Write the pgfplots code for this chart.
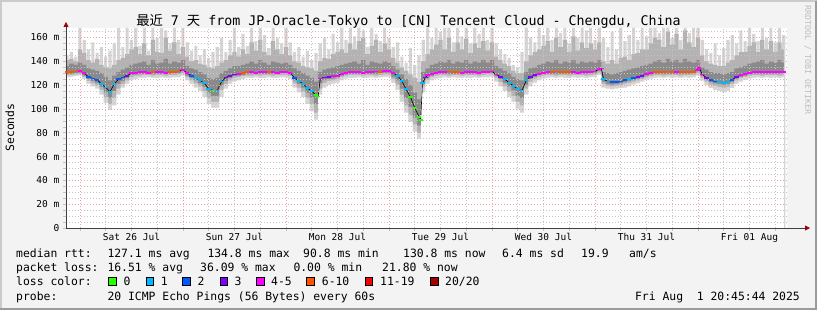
\documentclass[border=0pt]{standalone}
\usepackage{fontspec}
\setmainfont{DejaVu Sans Mono}
\newfontfamily\cjk{Noto Sans CJK SC}
\usepackage{pgfplots}
\pgfplotsset{compat=1.18}
\usepackage{pgfplotstable}
\usetikzlibrary{arrows.meta}

\definecolor{bgc}{HTML}{F3F3F3}
\definecolor{frA}{HTML}{CBCBCB}
\definecolor{frB}{HTML}{9B9B9B}
\definecolor{smA}{HTML}{D5D5D5}
\definecolor{smB}{HTML}{B3B3B3}
\definecolor{smC}{HTML}{8A8A8A}
\definecolor{gmin}{HTML}{C4C4C4}
\definecolor{gmaj}{HTML}{F0A0A0}
\definecolor{axc}{HTML}{404040}
\definecolor{arc}{HTML}{A00000}
\definecolor{rrc}{HTML}{BDBDBD}
\definecolor{lc0}{HTML}{26FF00}
\definecolor{lc1}{HTML}{00B8FF}
\definecolor{lc2}{HTML}{0059FF}
\definecolor{lc3}{HTML}{7E00FF}
\definecolor{lc4}{HTML}{FF00FF}
\definecolor{lc6}{HTML}{FF5500}
\definecolor{lc11}{HTML}{FF0000}
\definecolor{lc20}{HTML}{A00000}

% smoke: hour lA lB lC uC uB uA
\pgfplotstableread{
h lA lB lC uC uB uA
-3 127 128.5 129.5 136 141 145
-2 127 128.5 129.5 138 142 148
-1 127.5 129 130 137 140 144
0 128 129.5 130.5 139 150 168
1 125 127 128 137 147 158
2 121 123.5 125 134 141 150
3 119 121.5 123.5 133 139 156
4 117 120 122 132 142 147
5 112 116 118.5 130 137 152
6 105 110 114 127 135 144
7 99 104 109 124 134 149
8 103 109 115 128 137 155
9 112 117 121 131 141 168
10 118 121 123.5 133 143 152
11 121 124 126 135 146 168
12 124 127 128.5 137 150 158
13 125 128 129 138 152 168
14 126 128 129.5 139 146 153
15 126 128.5 129.5 140 155 168
16 126.5 128.5 129.5 137 145 149
17 126 128 129.5 141 158 168
18 126 128.5 129.5 138 148 160
19 126.5 128.5 129.5 139 147 168
20 126 128 129.5 142 160 166
21 126 128.5 129.5 138 149 155
22 126.5 128.5 130 140 156 168
23 126.5 129 130 139 146 158
24 128 130 131.5 141 152 168
25 124 126.5 128 136 144 156
26 121 124 126 134 140 149
27 118 121.5 124 133 141 153
28 115 119 121.5 131 138 145
29 110 115 118.5 129 137 150
30 104 109 113.5 126 135 143
31 101 106 111 125 134 148
32 101 106 111 126 136 152
33 110 116 119.5 130 139 160
34 117 121 123.5 132 141 148
35 121 124 126 134 145 158
36 123 126 127.5 136 148 168
37 124 127 128 136 144 152
38 125 127.5 128.5 137 150 163
39 126 128 129.5 138 146 153
40 126 128 129.5 140 156 168
41 126.5 128.5 129.5 138 149 157
42 126 128 129.5 141 158 168
43 126 128.5 129.5 139 148 162
44 126.5 128.5 129.5 137 145 151
45 126 128 129.5 140 157 168
46 126 128.5 129.5 139 150 160
47 126.5 128.5 130 138 146 155
48 126.5 128.5 130 139 152 168
49 125 127.5 129 137 145 156
50 118 121.5 124 134 140 148
51 114 118 121 132 139 152
52 110 114.5 118 130 136 144
53 104 109 113.5 128 135 149
54 98 104 109.5 126 134 141
55 91 97 104 123 132 147
56 112 117 121.5 131 140 155
57 118 122 124.5 133 143 160
58 120 123.5 125 134 142 150
59 121 124 125.5 135 146 163
60 122 125 126.5 136 148 156
61 124 127 128 137 150 168
62 125.5 128 129 138 147 158
63 126 128.5 129.5 139 155 168
64 126 128.5 129.5 140 150 161
65 126.5 128.5 129.5 138 157 168
66 126 128 129.5 141 160 166
67 126 128.5 129.5 137 146 152
68 126.5 128.5 129.5 140 153 168
69 126 128 129.5 139 158 163
70 126.5 128.5 130 138 148 157
71 127 129 130.5 140 155 168
72 127 129 130.5 139 150 160
73 122 125 127 136 143 152
74 116 120.5 124 133 139 156
75 106 112 117 129 135 144
76 97 103 109 125 132 139
77 89 95 101.5 120 129 151
78 81 87 93 114 126 137
79 75 80 86 108 123 145
80 114 119 122.5 131 140 158
81 121 124.5 126 134 146 168
82 124 127 128 137 150 160
83 125.5 128 129.5 138 154 168
84 126 128.5 129.5 140 158 165
85 126.5 128.5 129.5 139 150 168
86 126 128 129.5 141 160 168
87 126.5 128.5 129.5 138 148 156
88 126 128.5 129.5 140 156 168
89 126 128 129.5 139 150 161
90 126.5 128.5 129.5 141 159 168
91 126 128.5 129.5 138 147 155
92 126.5 128.5 129.5 140 155 168
93 126 128 129.5 139 151 163
94 126.5 128.5 130 141 157 168
95 126.5 129 130 139 149 158
96 127 129 130.5 141 156 168
97 123 126 127.5 136 144 155
98 119 122.5 125 134 141 150
99 115 119 122 132 138 146
100 110 114.5 119 130 136 143
101 106 111 115.5 127 132 137
102 100 106 111 125 130 135
103 97 103 109 124 130 148
104 112 117 120.5 131 140 168
105 119 123 125 134 145 160
106 122 125.5 127 135 148 156
107 124 127 128.5 137 150 168
108 125.5 128 129.5 138 153 162
109 126 128.5 129.5 140 157 168
110 126.5 128.5 129.5 139 148 158
111 126 128 129.5 141 160 168
112 126.5 128.5 129.5 138 152 164
113 126 128.5 129.5 140 158 168
114 126 128 129.5 139 148 155
115 126.5 128.5 129.5 141 161 168
116 126 128.5 129.5 138 149 160
117 126.5 128.5 129.5 140 156 168
118 126 128 129.5 139 151 166
119 126.5 128.5 130 140 155 168
120 127 129 130.5 139 150 158
121 128.5 130.5 132 141 156 168
122 118 121 123 131 140 160
123 117 119.5 121 130 138 152
124 116.5 119 120.5 129 141 165
125 117 119.5 121 130 138 150
126 117.5 120 121.5 131 143 168
127 118 121 122.5 132 144 157
128 119 122 123.5 133 141 162
129 120.5 123 124.5 134 146 168
130 121.5 124 125.5 135 147 158
131 123 125 126.5 136 150 168
132 124.5 126.5 128 137 150 161
133 125.5 127.5 129 138 155 168
134 126 128.5 129.5 140 160 168
135 126.5 128.5 129.5 141 158 164
136 126 128 129.5 139 152 168
137 126.5 128.5 129.5 142 165 168
138 126 128.5 129.5 140 154 160
139 126.5 128.5 129.5 141 163 168
140 126 128 129.5 139 150 158
141 126.5 128.5 129.5 142 166 168
142 126 128.5 129.5 140 156 164
143 126.5 128.5 130 139 152 168
144 128 130 131.5 141 160 168
145 123.5 126 127.5 135 145 158
146 120 123 124.5 133 140 150
147 117.5 120.5 122.5 131 138 147
148 116 119.5 121.5 130 137 155
149 115 118.5 121 130 136 145
150 114 118 120.5 129 136 151
151 115 118.5 121 130 139 158
152 117.5 121 123 131 141 162
153 121 124 125.5 134 145 155
154 123 126 127 135 148 166
155 124.5 127 128 136 148 157
156 125.5 128 129 138 153 168
157 126 128.5 129.5 139 156 163
158 126.5 128.5 129.5 140 148 157
159 126 128 129.5 141 158 168
160 126.5 128.5 129.5 138 150 160
161 126 128.5 129.5 140 157 168
162 126.5 128.5 129.5 139 148 156
163 126 128 129.5 141 156 168
164 126.5 128.5 130 139 150 162
}\smoke

% median rtt (ms) with loss class
\pgfplotstableread{
h v c
-3 131 o
-2 131 o
-1 131.5 o
0 132 m
1 130 m
2 127 b
3 125.5 b
4 124.5 b
5 121 c
6 118 c
7 114.5 c
8 121 c
9 125 b
10 126.5 b
11 128 v
12 130 m
13 130.5 m
14 131 m
15 131 m
16 130.5 m
17 131 o
18 131 m
19 131 m
20 130.5 m
21 131 o
22 131 o
23 131.5 o
24 133 m
25 130 m
26 128 b
27 126 c
28 124 c
29 121.5 c
30 117 c
31 115.5 g
32 115.5 c
33 123 c
34 126.5 v
35 128 v
36 129 v
37 129.5 m
38 130 o
39 131 o
40 131 m
41 130.5 m
42 131 m
43 131 m
44 131 o
45 131 m
46 130.5 m
47 131 m
48 131 m
49 130.5 m
50 126 b
51 123.5 c
52 121 c
53 117.5 c
54 115 c
55 111.5 g
55.5 110.5 g
56 125.5 m
57 126.5 v
58 127 v
59 127.5 m
60 128 m
61 129.5 m
62 130.5 m
63 131 m
64 131 m
65 131 m
66 130.5 m
67 131 m
68 131 m
69 131.5 m
70 131 o
71 132 m
72 132 m
73 130 m
74 128 c
75 123.5 c
76 116.5 c
77 110 g
78 101 g
79 93.5 g
79.4 90.8 g
79.8 121.5 c
80.5 126.5 v
81 128.5 m
82 129.5 m
83 130.5 m
84 131 m
85 131 m
86 131.5 o
87 131 o
88 131 o
89 130.5 m
90 131 m
91 131 m
92 131 m
93 130.5 m
94 131 m
95 131 m
96 131.5 m
97 129 m
98 127 v
99 125 c
100 122 c
101 119.5 c
102 116.5 c
103 115.5 c
104 124 c
105 127 v
106 128.5 v
107 129.5 m
108 130.5 m
109 131 m
110 131 o
111 131.5 o
112 131 o
113 131 o
114 131 o
115 131 m
116 130.5 m
117 131 m
118 131 m
119 131 m
120 131.5 m
121 133.5 m
121.5 134 m
122 125 c
123 123 c
124 122.5 b
125 122.5 b
126 123 b
127 124 b
128 125 c
129 126 b
130 127 v
131 128 v
132 129.5 m
133 130.5 m
134 131 o
135 131 o
136 131 o
137 131.5 o
138 131 o
139 131 m
140 131 o
141 131 o
142 131 o
143 131 o
144 133 m
144.3 134.5 m
145 129 m
146 126 v
147 124 b
148 123 b
149 122.5 c
150 122 c
151 122.5 c
152 124.5 b
153 127 v
154 128.5 m
155 129.5 m
156 130.5 m
157 131 m
158 131 m
159 131 m
160 131 m
161 131 m
162 131 m
163 131 m
164 131 m
}\med

\begin{document}
\begin{tikzpicture}[
  lg/.style={anchor=base west, inner sep=0pt, font=\fontsize{11.4bp}{13bp}\selectfont},
  box/.style={draw=black, line width=0.6bp}]
\path[use as bounding box] (-66bp,-82bp) rectangle (751bp,228bp);
\fill[bgc] (-66bp,-82bp) rectangle (751bp,228bp);
\draw[frA, line width=2bp] (-65bp,-82bp) -- (-65bp,227bp) -- (751bp,227bp);
\draw[frB, line width=2bp] (-66bp,-81bp) -- (750bp,-81bp) -- (750bp,227bp);

\begin{axis}[
  at={(0,0)}, anchor=south west,
  scale only axis, width=721bp, height=200bp,
  xmin=-3.25, xmax=164.75, ymin=0, ymax=168,
  axis background/.style={fill=white},
  axis on top,
  axis x line=bottom, axis y line=left,
  axis line style={draw=axc, line width=0.8bp},
  x axis line style={-{Triangle[length=5bp,width=5bp,color=arc]}, shorten >=-23bp},
  y axis line style={-{Triangle[length=5bp,width=5bp,color=arc]}, shorten >=-6bp},
  xtick={0,24,48,72,96,120,144}, xticklabels={,,,,,,},
  minor xtick={6,12,18,30,36,42,54,60,66,78,84,90,102,108,114,126,132,138,150,156,162},
  extra x ticks={12,36,60,84,108,132,156},
  extra x tick labels={Sat 26 Jul,Sun 27 Jul,Mon 28 Jul,Tue 29 Jul,Wed 30 Jul,Thu 31 Jul,Fri 01 Aug},
  extra x tick style={grid=none, major tick length=0pt},
  ytick={0,20,...,160},
  yticklabels={0,20 m,40 m,60 m,80 m,100 m,120 m,140 m,160 m},
  minor ytick={5,10,15,25,30,35,45,50,55,65,70,75,85,90,95,105,110,115,125,130,135,145,150,155,165},
  grid=both,
  major grid style={gmaj, dash pattern=on 1bp off 2bp, line width=0.8bp},
  minor grid style={gmin, dash pattern=on 1bp off 2bp, line width=0.8bp},
  tick align=outside,
  major tick length=3bp, minor tick length=3bp,
  tick style={gmin, line width=0.6bp},
  /pgf/number format/assume math mode=true,
  ticklabel style={font=\fontsize{9.5bp}{11bp}\selectfont, inner sep=0pt},
  yticklabel style={anchor=east, xshift=-3.5bp},
  xticklabel style={anchor=base, yshift=-12.3bp},
]
% smoke layers: outer spikes as bars, inner bands as steps; then repaint below the lower bounds
\addplot[ybar, bar width=3.1bp, bar shift=0pt, fill=smA, draw=none] table[x=h,y=uA]{\smoke};
\addplot[const plot mark mid, fill=smB, draw=none] table[x=h,y=uB]{\smoke} \closedcycle;
\addplot[const plot mark mid, fill=smC, draw=none] table[x=h,y=uC]{\smoke} \closedcycle;
\addplot[const plot mark mid, fill=smB, draw=none] table[x=h,y=lC]{\smoke} \closedcycle;
\addplot[const plot mark mid, fill=smA, draw=none] table[x=h,y=lB]{\smoke} \closedcycle;
\addplot[const plot mark mid, fill=white, draw=none] table[x=h,y=lA]{\smoke} \closedcycle;
\addplot[black, line width=0.6bp] table[x=h,y=v]{\med};
\addplot[scatter, only marks, scatter src=explicit symbolic, mark size=2.2bp,
  scatter/classes={
    g={mark=-,draw=lc0,line width=1.8bp},
    c={mark=-,draw=lc1,line width=1.8bp},
    b={mark=-,draw=lc2,line width=1.8bp},
    v={mark=-,draw=lc3,line width=1.8bp},
    m={mark=-,draw=lc4,line width=1.8bp},
    o={mark=-,draw=lc6,line width=1.8bp}}]
  table[x=h,y=v,meta=c]{\med};
\end{axis}

\node[anchor=base, inner sep=0pt, font=\fontsize{13.3bp}{15bp}\selectfont] at (342.5bp,202bp)
  {{\cjk 最近} 7 {\cjk 天} from JP-Oracle-Tokyo to [CN] Tencent Cloud - Chengdu, China};
\node[rotate=90, inner sep=0pt, font=\fontsize{11.4bp}{13bp}\selectfont] at (-56bp,100.5bp) {Seconds};
\node[rotate=-90, inner sep=0pt, text=rrc, font=\fontsize{8.3bp}{9bp}\selectfont] at (741.7bp,168bp) {RRDTOOL / TOBI OETIKER};

\node[lg] at (-50bp,-29.7bp) {median rtt:};
\node[lg] at (41.3bp,-29.7bp) {127.1 ms avg};
\node[lg] at (141.3bp,-29.7bp) {134.8 ms max};
\node[lg] at (237bp,-29.7bp) {90.8 ms min};
\node[lg] at (337bp,-29.7bp) {130.8 ms now};
\node[lg] at (436bp,-29.7bp) {6.4 ms sd};
\node[lg] at (515bp,-29.7bp) {19.9};
\node[lg] at (563bp,-29.7bp) {am/s};

\node[lg] at (-50bp,-43.8bp) {packet loss:};
\node[lg] at (41.3bp,-43.8bp) {16.51 \% avg};
\node[lg] at (134bp,-43.8bp) {36.09 \% max};
\node[lg] at (227.3bp,-43.8bp) {0.00 \% min};
\node[lg] at (316bp,-43.8bp) {21.80 \% now};

\node[lg] at (-50bp,-57.8bp) {loss color:};
\filldraw[box, fill=lc0] (42.3bp,-57.7bp) rectangle ++(7.5bp,8.2bp);
\node[lg] at (57.3bp,-57.8bp) {0};
\filldraw[box, fill=lc1] (80bp,-57.7bp) rectangle ++(7.5bp,8.2bp);
\node[lg] at (94.7bp,-57.8bp) {1};
\filldraw[box, fill=lc2] (116.7bp,-57.7bp) rectangle ++(7.5bp,8.2bp);
\node[lg] at (131.3bp,-57.8bp) {2};
\filldraw[box, fill=lc3] (154bp,-57.7bp) rectangle ++(7.5bp,8.2bp);
\node[lg] at (168.3bp,-57.8bp) {3};
\filldraw[box, fill=lc4] (190.7bp,-57.7bp) rectangle ++(7.5bp,8.2bp);
\node[lg] at (205bp,-57.8bp) {4-5};
\filldraw[box, fill=lc6] (240.7bp,-57.7bp) rectangle ++(7.5bp,8.2bp);
\node[lg] at (255.7bp,-57.8bp) {6-10};
\filldraw[box, fill=lc11] (299bp,-57.7bp) rectangle ++(7.5bp,8.2bp);
\node[lg] at (314bp,-57.8bp) {11-19};
\filldraw[box, fill=lc20] (364.7bp,-57.7bp) rectangle ++(7.5bp,8.2bp);
\node[lg] at (379bp,-57.8bp) {20/20};

\node[lg] at (-50bp,-72bp) {probe:};
\node[lg] at (41.3bp,-72bp) {20 ICMP Echo Pings (56 Bytes) every 60s};
\node[anchor=base east, inner sep=0pt, font=\fontsize{11.4bp}{13bp}\selectfont] at (734bp,-72bp) {Fri Aug~~1 20:45:44 2025};
\end{tikzpicture}
\end{document}
